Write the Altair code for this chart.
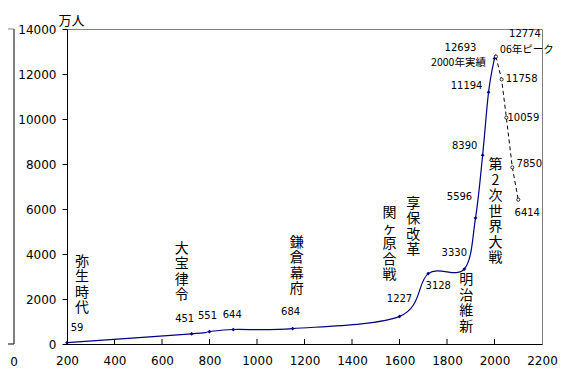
import altair as alt
import pandas as pd

# ---- data ----
hist_years = [200, 725, 800, 900, 1150, 1600, 1721, 1873, 1920, 1950, 1975, 2000]
hist_pop = [59, 451, 551, 644, 684, 1227, 3128, 3330, 5596, 8390, 11194, 12693]
proj_years = [2006, 2030, 2050, 2075, 2100]
proj_pop = [12774, 11758, 10059, 7850, 6414]
x_ticks = [200, 400, 600, 800, 1000, 1200, 1400, 1600, 1800, 2000, 2200]
y_ticks = [0, 2000, 4000, 6000, 8000, 10000, 12000, 14000]

events = ["弥生時代", "大宝律令", "鎌倉幕府", "関ヶ原合戦", "享保改革", "明治維新", "第2次世界大戦"]
event_anchor = [200, 725, 1150, 1600, 1721, 1873, 1920]

W, H = 475, 315
NAVY = "#000080"
NUMFONT = "DejaVu Sans"
JPFONT = "Noto Sans CJK JP"

xs = alt.Scale(domain=[200, 2200], nice=False)
ys = alt.Scale(domain=[0, 14000], nice=False)

hist = pd.DataFrame({"year": hist_years, "pop": hist_pop})
proj = pd.DataFrame({"year": proj_years, "pop": proj_pop})
solid = pd.DataFrame({"year": hist_years + proj_years[:1], "pop": hist_pop + proj_pop[:1]})

X = alt.X("year:Q", scale=xs, axis=alt.Axis(values=x_ticks, ticks=False, labelPadding=11,
                                            labelFlush=False, labelOverlap=False,
                                            title=None, grid=False, format="d"))
Y = alt.Y("pop:Q", scale=ys, axis=alt.Axis(values=y_ticks, tickSize=5, labelPadding=6, grid=False,
                                           labelFlush=False, labelOverlap=False,
                                           format="d", title="万人", titleAngle=0, titleX=4, titleY=-9,
                                           titleAlign="center", titleBaseline="middle",
                                           titleFont=JPFONT, titleFontSize=13, titleFontWeight="normal"))

layers = []
layers.append(alt.Chart(solid).mark_line(color=NAVY, strokeWidth=1.2, interpolate="cardinal").encode(x=X, y=Y))
layers.append(alt.Chart(proj).mark_line(color="black", strokeWidth=1, strokeDash=[4, 3]).encode(
    x=alt.X("year:Q", scale=xs), y=alt.Y("pop:Q", scale=ys)))
layers.append(alt.Chart(hist).mark_point(shape="diamond", filled=True, color=NAVY, size=14, opacity=1).encode(
    x=alt.X("year:Q", scale=xs), y=alt.Y("pop:Q", scale=ys)))
layers.append(alt.Chart(proj).mark_point(shape="circle", filled=True, fill="white", stroke="black",
                                         strokeWidth=0.8, size=10, opacity=1).encode(
    x=alt.X("year:Q", scale=xs), y=alt.Y("pop:Q", scale=ys)))

# inner x ticks
layers.append(alt.Chart(pd.DataFrame({"t": x_ticks[1:-1]})).mark_rule(color="black", strokeWidth=1).encode(
    x=alt.X("t:Q", scale=xs), y=alt.value(H - 5), y2=alt.value(H)))

# value label offsets (layout only)
num_off = {59: (10, -15), 451: (-7, -15), 551: (-2, -16), 644: (-1, -15), 684: (-2, -17),
           1227: (0, -17), 3128: (10, 12), 3330: (-10, -16), 5596: (-16, -21), 8390: (-18, -9),
           11194: (-22, -6), 12693: (-34, -10), 12774: (29, -23), 11758: (20, 0), 10059: (17, 0),
           7850: (17, -3), 6414: (9, 13)}
all_pts = list(zip(hist_years + proj_years, hist_pop + proj_pop))
for yr, v in all_pts:
    dx, dy = num_off[v]
    d = pd.DataFrame({"year": [yr], "pop": [v], "lab": [str(v)]})
    layers.append(alt.Chart(d).mark_text(font=NUMFONT, fontSize=10, color="black", dx=dx, dy=dy,
                                         align="center", baseline="middle").encode(
        x=alt.X("year:Q", scale=xs), y=alt.Y("pop:Q", scale=ys), text="lab:N"))

# extra notes
notes = [("2000年実績", 2000, 12693, -36, 5), ("06年ピーク", 2006, 12774, 31, -7)]
for txt, yr, v, dx, dy in notes:
    d = pd.DataFrame({"year": [yr], "pop": [v], "lab": [txt]})
    layers.append(alt.Chart(d).mark_text(font=JPFONT, fontSize=10.5, color="black", dx=dx, dy=dy,
                                         align="center", baseline="middle").encode(
        x=alt.X("year:Q", scale=xs), y=alt.Y("pop:Q", scale=ys), text="lab:N"))

# vertical event annotations
ev_off = [(15, -88), (-10, -92), (4, -93), (-10, -110), (-15, -77), (2, 4), (20, -60)]
pop_of = dict(zip(hist_years, hist_pop))
for txt, yr, (dx, dy) in zip(events, event_anchor, ev_off):
    d = pd.DataFrame({"year": [yr], "pop": [pop_of[yr]], "lab": ["\n".join(list(txt))]})
    layers.append(alt.Chart(d).mark_text(font=JPFONT, fontSize=14, color="black", dx=dx, dy=dy,
                                         align="center", baseline="top", lineBreak="\n",
                                         lineHeight=15.5).encode(
        x=alt.X("year:Q", scale=xs), y=alt.Y("pop:Q", scale=ys), text="lab:N"))

# left stray frame fragment
one = alt.Data(values=[{"a": 1}])
layers.append(alt.Chart(one).mark_rule(color="black", strokeWidth=1).encode(
    x=alt.value(-53), y=alt.value(0), y2=alt.value(H)))
layers.append(alt.Chart(one).mark_rule(color="#808080", strokeWidth=1).encode(
    x=alt.value(-60), x2=alt.value(-53), y=alt.value(0)))
layers.append(alt.Chart(one).mark_rule(color="black", strokeWidth=1).encode(
    x=alt.value(-60), x2=alt.value(-53), y=alt.value(H)))
layers.append(alt.Chart(alt.Data(values=[{"t": "0"}])).mark_text(
    font=NUMFONT, fontSize=12, color="black", align="center", baseline="middle").encode(
    x=alt.value(-53), y=alt.value(H + 18), text="t:N"))

chart = alt.layer(*layers).properties(
    width=W, height=H,
    autosize=alt.AutoSizeParams(type="none"),
    padding={"left": 59, "top": 21, "right": 26, "bottom": 22},
    background="white",
).configure_view(stroke="#808080", strokeWidth=1).configure_axis(
    labelFont=NUMFONT, labelFontSize=12, labelColor="black", domainColor="black",
    tickColor="black", domainWidth=1, tickWidth=1,
)

chart.save("out.html", embed_options={"renderer": "svg", "actions": False})
